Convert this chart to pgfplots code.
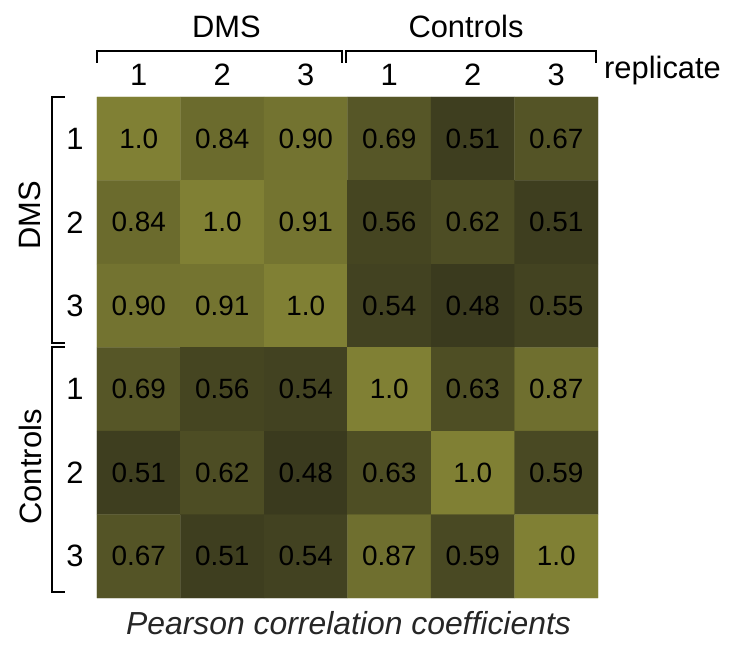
\documentclass[border=0pt]{standalone}
\usepackage{pgfplots}
\pgfplotsset{compat=1.18}
\usepackage{fontspec}
\setmainfont{Liberation Sans}
\pgfplotstableread{
x y c lab
0 0 1.00 1.0
1 0 0.84 0.84
2 0 0.90 0.90
3 0 0.69 0.69
4 0 0.51 0.51
5 0 0.67 0.67
0 1 0.84 0.84
1 1 1.00 1.0
2 1 0.91 0.91
3 1 0.56 0.56
4 1 0.62 0.62
5 1 0.51 0.51
0 2 0.90 0.90
1 2 0.91 0.91
2 2 1.00 1.0
3 2 0.54 0.54
4 2 0.48 0.48
5 2 0.55 0.55
0 3 0.69 0.69
1 3 0.56 0.56
2 3 0.54 0.54
3 3 1.00 1.0
4 3 0.63 0.63
5 3 0.87 0.87
0 4 0.51 0.51
1 4 0.62 0.62
2 4 0.48 0.48
3 4 0.63 0.63
4 4 1.00 1.0
5 4 0.59 0.59
0 5 0.67 0.67
1 5 0.51 0.51
2 5 0.54 0.54
3 5 0.87 0.87
4 5 0.59 0.59
5 5 1.00 1.0
}\corr
\begin{document}
\begin{tikzpicture}[x=1bp,y=1bp]
\useasboundingbox (-97,-47) rectangle (633,598);
\begin{axis}[at={(0,0)}, anchor=south west, scale only axis,
  width=501bp, height=501bp,
  xmin=-0.5, xmax=5.5, ymin=-0.5, ymax=5.5, y dir=reverse,
  colormap={olive}{rgb255=(58,58,30) rgb255=(128,128,52)},
  point meta min=0.48, point meta max=1,
  axis line style={draw=none}, major tick length=0pt,
  xtick={0,...,5}, xticklabels={1,2,3,1,2,3}, xticklabel pos=upper,
  ytick={0,...,5}, yticklabels={1,2,3,1,2,3},
  ticklabel style={font=\fontsize{31}{34}\selectfont, inner sep=0pt},
  x tick label style={anchor=base, yshift=11bp},
  y tick label style={anchor=center, xshift=-22bp},
  /pgf/number format/assume math mode=true,
]
\addplot[matrix plot*, mesh/cols=6, point meta=explicit] table[x=x, y=y, meta=c] {\corr};
\addplot[only marks, mark=none, nodes near coords, point meta=explicit symbolic,
  nodes near coords style={font=\fontsize{28}{30}\selectfont, text=black, anchor=center}]
  table[x=x, y=y, meta=lab] {\corr};
\end{axis}
\begin{scope}[line width=2.2bp]
\draw (0,535) -- (0,547) -- (245,547) -- (245,535);
\draw (249,535) -- (249,547) -- (499,547) -- (499,535);
\draw (-32,501) -- (-45,501) -- (-45,255) -- (-32,255);
\draw (-32,251) -- (-45,251) -- (-45,6) -- (-32,6);
\end{scope}
\begin{scope}[every node/.style={font=\fontsize{31}{34}\selectfont, inner sep=0pt}]
\node[anchor=base] at (129.5,560) {DMS};
\node[anchor=base] at (369,560) {Controls};
\node[anchor=base west] at (507,519) {replicate};
\node[rotate=90] at (-67,382.5) {DMS};
\node[rotate=90] at (-67,131) {Controls};
\end{scope}
\node[font=\fontsize{32}{34}\selectfont\itshape, text=black!85, inner sep=0pt, anchor=base] at (251.5,-37) {Pearson correlation coefficients};
\end{tikzpicture}
\end{document}
